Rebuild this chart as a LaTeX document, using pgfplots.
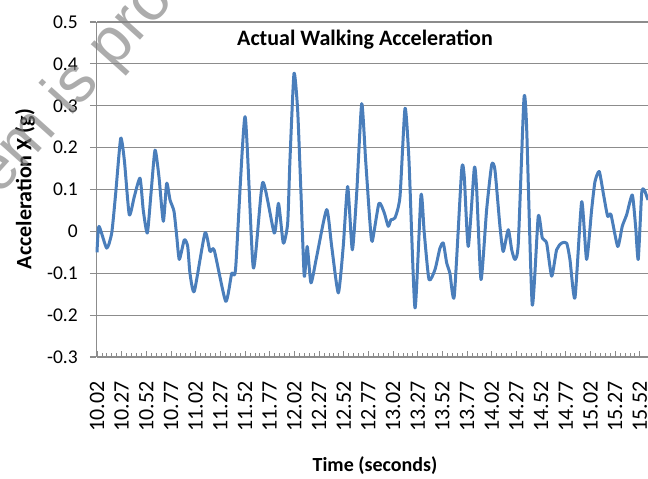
\documentclass[border=0pt]{standalone}
\usepackage{pgfplots}
\pgfplotsset{compat=1.18}
\usepackage{fontspec}
\setmainfont{Carlito}
\newfontfamily\wmfont{Liberation Sans}
\definecolor{lineblue}{RGB}{74,126,187}
\definecolor{gridgray}{RGB}{140,140,140}
\begin{document}
\begin{tikzpicture}
\path[use as bounding box] (-97pt,-122pt) rectangle (551pt,357pt);
\begin{axis}[
  at={(0pt,0pt)}, anchor=south west,
  scale only axis, width=551pt, height=335pt,
  xmin=10.02, xmax=15.603, ymin=-0.3, ymax=0.5,
  axis x line*=bottom, axis y line*=left,
  axis line style={draw=gridgray, line width=1pt},
  xtick={10.02,10.27,10.52,10.77,11.02,11.27,11.52,11.77,12.02,12.27,12.52,12.77,13.02,13.27,13.52,13.77,14.02,14.27,14.52,14.77,15.02,15.27,15.52},
  xticklabels={10.02,10.27,10.52,10.77,11.02,11.27,11.52,11.77,12.02,12.27,12.52,12.77,13.02,13.27,13.52,13.77,14.02,14.27,14.52,14.77,15.02,15.27,15.52},
  minor x tick num=4,
  ytick={-0.3,-0.2,-0.1,0,0.1,0.2,0.3,0.4,0.5},
  yticklabels={-0.3,-0.2,-0.1,0,0.1,0.2,0.3,0.4,0.5},
  tick align=inside,
  major tick length=6pt, minor tick length=4pt,
  xtick style={draw=gridgray, line width=0.8pt},
  ytick style={draw=gridgray, line width=1.2pt, xshift=-7pt},
  ymajorgrids,
  grid style={draw=gridgray, line width=1.2pt},
  xticklabel style={rotate=90, anchor=east, inner sep=0pt, font=\fontsize{22}{22}\selectfont},
  xticklabel shift=24pt,
  yticklabel style={anchor=east, inner sep=0pt, font=\fontsize{19.5}{19.5}\selectfont},
  yticklabel shift=19pt,
  clip=false,
]
\addplot[lineblue, line width=3pt, smooth, tension=0.35, line join=round] coordinates {
(10.02,-0.05) (10.040,0.012) (10.118,-0.04) (10.169,-0.004) (10.209,0.09) (10.260,0.222)
(10.297,0.17) (10.347,0.04) (10.398,0.083) (10.456,0.127) (10.489,0.05) (10.530,-0.004)
(10.567,0.09) (10.608,0.194) (10.648,0.13) (10.692,0.024) (10.726,0.115) (10.760,0.075)
(10.800,0.048) (10.828,-0.012) (10.854,-0.067) (10.905,-0.02) (10.939,-0.036) (10.962,-0.1)
(11.006,-0.143) (11.114,-0.004) (11.165,-0.048) (11.208,-0.045) (11.324,-0.167) (11.385,-0.1)
(11.425,-0.087) (11.520,0.274) (11.604,-0.087) (11.699,0.117) (11.816,-0.004) (11.859,0.067)
(11.908,-0.028) (11.952,0.02) (11.975,0.17) (12.016,0.377) (12.053,0.29) (12.087,0.09)
(12.120,-0.107) (12.150,-0.036) (12.188,-0.123) (12.246,-0.06) (12.347,0.052) (12.398,-0.036)
(12.465,-0.147) (12.515,-0.036) (12.560,0.107) (12.607,-0.044) (12.651,0.09) (12.702,0.305)
(12.742,0.17) (12.786,0.02) (12.809,-0.024) (12.877,0.067) (12.931,0.044) (12.971,0.012)
(12.999,0.028) (13.039,0.032) (13.090,0.083) (13.141,0.294) (13.181,0.17) (13.242,-0.183)
(13.303,0.087) (13.336,-0.004) (13.384,-0.115) (13.445,-0.091) (13.495,-0.04) (13.529,-0.028)
(13.563,-0.075) (13.596,-0.1) (13.640,-0.155) (13.715,0.147) (13.741,0.131) (13.782,-0.036)
(13.843,0.151) (13.867,0.1) (13.911,-0.115) (13.968,0.052) (14.019,0.159) (14.052,0.147)
(14.103,0.012) (14.136,-0.048) (14.187,0.004) (14.222,-0.044) (14.255,-0.067) (14.289,-0.028)
(14.346,0.317) (14.373,0.25) (14.430,-0.175) (14.491,0.036) (14.532,-0.016) (14.576,-0.028)
(14.627,-0.107) (14.677,-0.044) (14.728,-0.028) (14.779,-0.028) (14.812,-0.067) (14.863,-0.159)
(14.931,0.071) (14.981,-0.067) (15.032,0.052) (15.066,0.119) (15.109,0.143) (15.150,0.091)
(15.194,0.036) (15.228,0.04) (15.296,-0.036) (15.342,0.012) (15.387,0.04) (15.444,0.087)
(15.478,0.01) (15.504,-0.067) (15.539,0.091) (15.565,0.099) (15.603,0.075)
};
\end{axis}
\node[font=\bfseries\fontsize{22}{22}\selectfont] at (268pt,317pt) {Actual Walking Acceleration};
\node[rotate=90, font=\bfseries\fontsize{22}{22}\selectfont] at (-72pt,168pt) {Acceleration X (g)};
\node[font=\bfseries\fontsize{20}{20}\selectfont] at (278pt,-109pt) {Time (seconds)};
\node[rotate=48, anchor=base west, text=gray, opacity=0.65, inner sep=0pt, font=\wmfont\fontsize{64}{64}\selectfont] at (-98pt,160pt) {em is protected};
\end{tikzpicture}
\end{document}
